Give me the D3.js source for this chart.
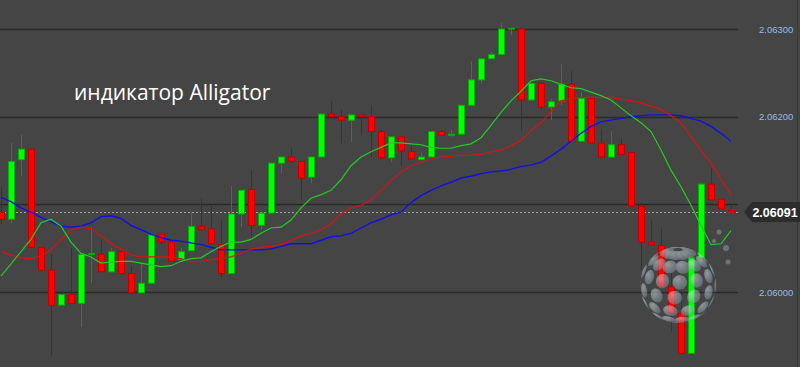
<!DOCTYPE html>
<html>
<head>
<meta charset="utf-8">
<script src="https://cdn.jsdelivr.net/npm/d3@7"></script>
<style>
  html, body { margin: 0; padding: 0; background: #454545; }
  svg { display: block; }
</style>
</head>
<body>
<svg class="chart"></svg>
<script>
// candles, one per bar, left to right
var open  = [2.06091,2.06083,2.06151,2.06163,2.06051,2.06025,2.05985,2.05997,2.05987,2.06043,
             2.06043,2.06023,2.06046,2.06021,2.05999,2.06010,2.06066,2.06057,2.06037,2.06047,
             2.06075,2.06072,2.06054,2.06021,2.06089,2.06117,2.06076,2.06090,2.06147,2.06154,
             2.06149,2.06131,2.06154,2.06203,2.06200,2.06196,2.06202,2.06200,2.06183,2.06153,
             2.06177,2.06160,2.06151,2.06154,2.06183,2.06179,2.06180,2.06213,2.06242,2.06266,
             2.06271,2.06300,2.06300,2.06219,2.06238,2.06211,2.06218,2.06237,2.06172,2.06221,
             2.06170,2.06154,2.06168,2.06159,2.06098,2.06057,2.06053,2.06006,2.05976,2.05930,
             2.06039,2.06123,2.06106,2.06093];
var high  = [2.06120,2.06170,2.06179,2.06163,2.06051,2.06043,2.05997,2.06050,2.06043,2.06074,
             2.06059,2.06050,2.06046,2.06029,2.06033,2.06067,2.06066,2.06057,2.06050,2.06091,
             2.06107,2.06098,2.06082,2.06121,2.06116,2.06139,2.06090,2.06147,2.06154,2.06164,
             2.06149,2.06154,2.06203,2.06218,2.06208,2.06202,2.06202,2.06213,2.06185,2.06177,
             2.06177,2.06167,2.06159,2.06183,2.06185,2.06185,2.06213,2.06263,2.06266,2.06274,
             2.06307,2.06301,2.06300,2.06238,2.06238,2.06220,2.06260,2.06252,2.06228,2.06221,
             2.06185,2.06184,2.06175,2.06159,2.06102,2.06082,2.06073,2.06022,2.06019,2.06039,
             2.06123,2.06141,2.06106,2.06098];
var low   = [2.06078,2.06078,2.06132,2.06051,2.06023,2.05927,2.05985,2.05987,2.05960,2.06010,
             2.06023,2.06023,2.06021,2.05999,2.05999,2.06010,2.06054,2.06035,2.06037,2.06047,
             2.06071,2.06055,2.06017,2.06021,2.06074,2.06063,2.06071,2.06090,2.06135,2.06147,
             2.06103,2.06124,2.06154,2.06200,2.06170,2.06171,2.06180,2.06154,2.06153,2.06148,
             2.06144,2.06152,2.06151,2.06154,2.06179,2.06177,2.06180,2.06213,2.06238,2.06266,
             2.06271,2.06293,2.06183,2.06219,2.06208,2.06196,2.06213,2.06172,2.06172,2.06170,
             2.06154,2.06153,2.06157,2.06098,2.06025,2.06054,2.06006,2.05954,2.05930,2.05930,
             2.06034,2.06105,2.06095,2.06091];
var close = [2.06083,2.06149,2.06163,2.06051,2.06025,2.05985,2.05997,2.05987,2.06043,2.06044,
             2.06023,2.06046,2.06021,2.05999,2.06010,2.06065,2.06057,2.06035,2.06046,2.06075,
             2.06071,2.06055,2.06021,2.06089,2.06116,2.06076,2.06090,2.06147,2.06154,2.06149,
             2.06130,2.06154,2.06203,2.06200,2.06196,2.06202,2.06200,2.06183,2.06153,2.06177,
             2.06161,2.06152,2.06154,2.06183,2.06179,2.06180,2.06213,2.06242,2.06266,2.06271,
             2.06300,2.06301,2.06219,2.06238,2.06211,2.06217,2.06237,2.06172,2.06221,2.06170,
             2.06154,2.06168,2.06157,2.06098,2.06057,2.06054,2.06006,2.05976,2.05930,2.06039,
             2.06123,2.06105,2.06095,2.06091];

// alligator lines, value at each bar
var jaw   = [2.06108,2.06103,2.06096,2.06091,2.06085,2.06080,2.06075,2.06074,2.06075,2.06079,
             2.06086,2.06087,2.06084,2.06076,2.06071,2.06066,2.06062,2.06059,2.06058,2.06056,
             2.06054,2.06051,2.06048,2.06048,2.06048,2.06048,2.06048,2.06049,2.06052,2.06055,
             2.06055,2.06055,2.06059,2.06063,2.06064,2.06067,2.06073,2.06079,2.06083,2.06088,
             2.06091,2.06102,2.06110,2.06116,2.06121,2.06125,2.06130,2.06132,2.06135,2.06137,
             2.06138,2.06140,2.06143,2.06145,2.06148,2.06155,2.06163,2.06172,2.06181,2.06189,
             2.06194,2.06196,2.06198,2.06200,2.06201,2.06202,2.06202,2.06202,2.06201,2.06198,
             2.06195,2.06189,2.06181,2.06172];
var teeth = [2.06046,2.06042,2.06039,2.06038,2.06041,2.06048,2.06060,2.06071,2.06074,2.06072,
             2.06064,2.06055,2.06049,2.06042,2.06040,2.06040,2.06040,2.06040,2.06038,2.06034,
             2.06035,2.06037,2.06038,2.06040,2.06044,2.06049,2.06051,2.06052,2.06054,2.06059,
             2.06064,2.06067,2.06071,2.06078,2.06089,2.06096,2.06099,2.06105,2.06116,2.06127,
             2.06137,2.06144,2.06148,2.06152,2.06154,2.06155,2.06156,2.06156,2.06157,2.06160,
             2.06162,2.06167,2.06173,2.06184,2.06193,2.06206,2.06218,2.06221,2.06222,2.06222,
             2.06222,2.06222,2.06220,2.06218,2.06216,2.06212,2.06208,2.06201,2.06193,2.06177,
             2.06162,2.06147,2.06129,2.06111];
var lips  = [2.06018,2.06032,2.06046,2.06060,2.06079,2.06083,2.06075,2.06057,2.06044,2.06040,
             2.06033,2.06034,2.06035,2.06035,2.06033,2.06031,2.06029,2.06030,2.06035,2.06038,
             2.06039,2.06046,2.06052,2.06057,2.06057,2.06060,2.06067,2.06073,2.06074,2.06082,
             2.06096,2.06107,2.06111,2.06116,2.06128,2.06144,2.06154,2.06160,2.06165,2.06170,
             2.06170,2.06169,2.06168,2.06165,2.06164,2.06164,2.06167,2.06169,2.06176,2.06190,
             2.06205,2.06218,2.06229,2.06241,2.06243,2.06241,2.06237,2.06233,2.06232,2.06228,
             2.06224,2.06219,2.06210,2.06201,2.06193,2.06183,2.06162,2.06139,2.06120,2.06099,
             2.06076,2.06054,2.06055,2.06070];

var priceTicks = [2.06000, 2.06100, 2.06200, 2.06300];
var lastPrice = 2.06091;
var title = "индикатор Alligator";

var width = 800;
var height = 367;

var chart = d3.select(".chart").attr("width", width).attr("height", height);

chart.append("rect").attr("width", width).attr("height", height).attr("fill", "#454545");

var x = d3.scaleLinear().domain([0, open.length - 1]).range([1, 731]);
var y = d3.scaleLinear().domain([2.06000, 2.06300]).range([292, 29]);

// grid
chart.append("g").selectAll("line").data(priceTicks).enter().append("line")
  .attr("x1", 0).attr("x2", 738)
  .attr("y1", d => Math.round(y(d)) + 0.5).attr("y2", d => Math.round(y(d)) + 0.5)
  .attr("stroke", "#2a2a2a").attr("stroke-width", 1.3);

// right border
chart.append("line").attr("x1", 797.5).attr("x2", 797.5).attr("y1", 0).attr("y2", height)
  .attr("stroke", "#3a3a3a");

// price labels
var axis = d3.axisRight(y).tickValues(priceTicks).tickSize(0).tickPadding(0)
  .tickFormat(d3.format(".5f"));
var ag = chart.append("g").attr("transform", "translate(759,0)").call(axis);
ag.select(".domain").remove();
ag.selectAll("text").attr("fill", "#93bde6").style("font-family", "Liberation Sans, Arial")
  .style("font-size", "9.5px");

// current price dotted line
chart.append("line")
  .attr("x1", 0).attr("x2", 738)
  .attr("y1", Math.round(y(lastPrice)) + 0.5).attr("y2", Math.round(y(lastPrice)) + 0.5)
  .attr("stroke", "#a0a0a0").attr("stroke-dasharray", "2,2");

// title
chart.append("text").attr("x", 74).attr("y", 100)
  .attr("fill", "#ffffff")
  .style("font-family", "Open Sans").style("font-size", "21px")
  .text(title);

// candles
var bars = d3.range(open.length);
var up = i => close[i] >= open[i];

chart.append("g").selectAll("line").data(bars).enter().append("line")
  .attr("x1", i => Math.round(x(i)) + 0.5).attr("x2", i => Math.round(x(i)) + 0.5)
  .attr("y1", i => y(high[i])).attr("y2", i => y(low[i]))
  .attr("stroke", i => up(i) ? "#00a000" : "#b00000");

chart.append("g").selectAll("rect").data(bars).enter().append("rect")
  .attr("x", i => Math.round(x(i)) - 2.5)
  .attr("width", 6)
  .attr("y", i => y(Math.max(open[i], close[i])))
  .attr("height", i => Math.max(1, Math.abs(y(open[i]) - y(close[i]))))
  .attr("fill", i => up(i) ? "#00ff00" : "#ff0000")
  .attr("stroke", i => up(i) ? "#00b000" : "#c00000")
  .attr("stroke-width", 1);

// alligator
var line = d3.line().x((d, i) => x(i)).y(d => y(d));
chart.append("path").datum(jaw).attr("d", line)
  .attr("fill", "none").attr("stroke", "#1010e8").attr("stroke-width", 1.4);
chart.append("path").datum(teeth).attr("d", line)
  .attr("fill", "none").attr("stroke", "#dd1111").attr("stroke-width", 1.2);
chart.append("path").datum(lips).attr("d", line)
  .attr("fill", "none").attr("stroke", "#22cc22").attr("stroke-width", 1.2);

// last price tag
var ty = Math.round(y(lastPrice));
chart.append("path")
  .attr("d", "M744," + ty + " L752," + (ty - 10) + " L800," + (ty - 10) +
             " L800," + (ty + 10) + " L752," + (ty + 10) + " Z")
  .attr("fill", "#2c2c2c");
chart.append("text").attr("x", 775).attr("y", ty + 4.5)
  .attr("text-anchor", "middle").attr("fill", "#ffffff")
  .style("font-family", "Liberation Sans, Arial").style("font-size", "12.5px")
  .style("font-weight", "bold")
  .text(d3.format(".5f")(lastPrice));

// watermark globe
var proj = d3.geoOrthographic().scale(38).translate([678, 285]).rotate([25, -20]).clipAngle(90);
var gp = d3.geoPath(proj);
var dots = [];
for (var lat = -72; lat <= 72; lat += 24) {
  for (var lon = -180; lon < 180; lon += 30) {
    dots.push(d3.geoCircle().center([lon + (lat / 24) * 8, lat]).radius(11)());
  }
}
var grad = chart.append("defs").append("radialGradient").attr("id", "gl")
  .attr("cx", "35%").attr("cy", "30%").attr("r", "75%");
grad.append("stop").attr("offset", "0%").attr("stop-color", "#dfe7ec");
grad.append("stop").attr("offset", "100%").attr("stop-color", "#7890a0");
var globe = chart.append("g").attr("opacity", 0.5);
globe.selectAll("path").data(dots).enter().append("path")
  .attr("d", gp).attr("fill", "url(#gl)");
globe.selectAll("circle").data([[719, 232, 2.5], [726, 248, 3], [714, 241, 2], [728, 262, 2.5]])
  .enter().append("circle")
  .attr("cx", d => d[0]).attr("cy", d => d[1]).attr("r", d => d[2]).attr("fill", "#8fa3b0");
</script>
</body>
</html>
